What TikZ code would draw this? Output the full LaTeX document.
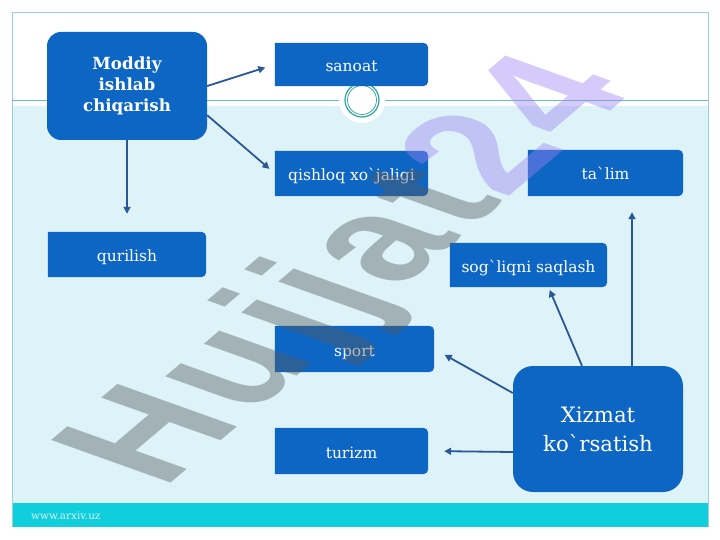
\documentclass[tikz,border=0pt]{standalone}
\usepackage{fontspec}
\setmainfont{DejaVu Serif}
\newfontfamily\wmfont{Liberation Sans}[LetterSpace=5]
\usetikzlibrary{arrows.meta,backgrounds,calc}
\definecolor{boxblue}{RGB}{14,102,196}
\definecolor{arrowblue}{RGB}{42,88,150}
\definecolor{slidecyan}{RGB}{221,243,248}
\definecolor{barcyan}{RGB}{16,206,220}
\definecolor{framecol}{RGB}{150,210,215}
\definecolor{ringcol}{RGB}{40,165,160}
\definecolor{wmgray}{RGB}{85,90,92}
\definecolor{wmviolet}{RGB}{155,130,242}
\definecolor{urlcol}{RGB}{215,245,248}
\newcommand{\stk}[2]{\vbox{\baselineskip=#1\lineskiplimit=-30pt\lineskip=0pt\halign{\hfil##\hfil\cr #2\crcr}}}
\begin{document}
\begin{tikzpicture}[x=1pt,y=-1pt,
  sbox/.style={inner sep=0pt, text=white, text height=16pt, text depth=2pt, font=\fontsize{15.5}{18}\selectfont},
  bbox/.style={inner sep=0pt, text=white, fill=boxblue},
  arr/.style={draw=arrowblue, line width=1.8pt, -{Triangle[length=7pt,width=7pt]}}]
\useasboundingbox (0,0) rectangle (720,540);
% nodes
\node[bbox, minimum width=160pt, minimum height=108pt, rounded corners=14pt,
      font=\bfseries\fontsize{16.7}{20}\selectfont] (mod) at (127,86)
      {\stk{21.2pt}{Moddiy\cr ishlab\cr chiqarish}};
\node[bbox, minimum width=170pt, minimum height=126pt, rounded corners=20pt,
      font=\fontsize{21.2}{28}\selectfont] (xiz) at (598,429)
      {\stk{29pt}{Xizmat\cr ko\textasciigrave rsatish}};
\node[sbox, minimum width=153pt, minimum height=43pt] (san) at (351.5,64.5) {sanoat};
\node[sbox, minimum width=153pt, minimum height=45pt] (qis) at (351.5,173.5) {qishloq xo\textasciigrave jaligi};
\node[sbox, minimum width=155pt, minimum height=46pt] (tal) at (605.5,173) {ta\textasciigrave lim};
\node[sbox, minimum width=157pt, minimum height=44pt] (sog) at (528.5,265) {sog\textasciigrave liqni saqlash};
\node[sbox, minimum width=158pt, minimum height=45pt] (qur) at (127,254.5) {qurilish};
\node[sbox, minimum width=159pt, minimum height=46pt] (spo) at (354.5,349) {sport};
\node[sbox, minimum width=153pt, minimum height=46pt] (tur) at (351.5,451) {turizm};
\node[anchor=west, inner sep=0pt, text=urlcol, font=\fontsize{10.4}{12}\selectfont] (url) at (31,516) {www.arxiv.uz};
% background
\begin{pgfonlayer}{background}
  \fill[white] (0,0) rectangle (720,540);
  \fill[slidecyan] (12,106) rectangle (708,503);
  \fill[barcyan] (12,503) rectangle (708,527);
  \draw[framecol, line width=0.8pt] (12,527) -- (12,12) -- (708,12) -- (708,527);
  \draw[ringcol!70, line width=0.8pt] (12,100) -- (708,100);
  \fill[white] (362,100) circle (23pt);
  \draw[ringcol, line width=1.2pt] (362,100) circle (17pt);
  \draw[ringcol, line width=0.7pt] (362,100) circle (14.5pt);
  \foreach \n in {san,qis,tal,sog,qur,spo,tur}
    \fill[boxblue] (\n.south west) -- (\n.north west) [rounded corners=5pt] -- (\n.north east) -- (\n.south east) -- ([xshift=-1pt]\n.south west) [sharp corners] -- cycle;
\end{pgfonlayer}
% connectors
\draw[arr, shorten >=10pt] (mod.east) -- (san.west);
\draw[arr, shorten >=7pt] (mod.-20) -- (qis.west);
\draw[arr, shorten >=18pt] (mod.south) -- (qur.north);
\draw[arr, shorten >=16pt] ([xshift=34pt]xiz.north) -- ([xshift=26.5pt]tal.south);
\draw[arr, shorten >=3pt] ([xshift=-16pt]xiz.north) -- ([xshift=20pt]sog.south);
\draw[arr, shorten >=12pt] ([yshift=36pt]xiz.west) -- (spo.east);
\draw[arr, shorten >=16pt] ([yshift=-23pt]xiz.west) -- (tur.east);
% watermark
\begin{scope}[shift={(355,273)}, yscale=0.55, transform shape]
  \node[rotate=57, inner sep=0pt, text opacity=0.42,
        font=\wmfont\bfseries\fontsize{207}{207}\selectfont] (wm) at (0,0)
        {\textcolor{wmgray}{Hujjat}\textcolor{wmviolet}{24}};
\end{scope}
\end{tikzpicture}
\end{document}
